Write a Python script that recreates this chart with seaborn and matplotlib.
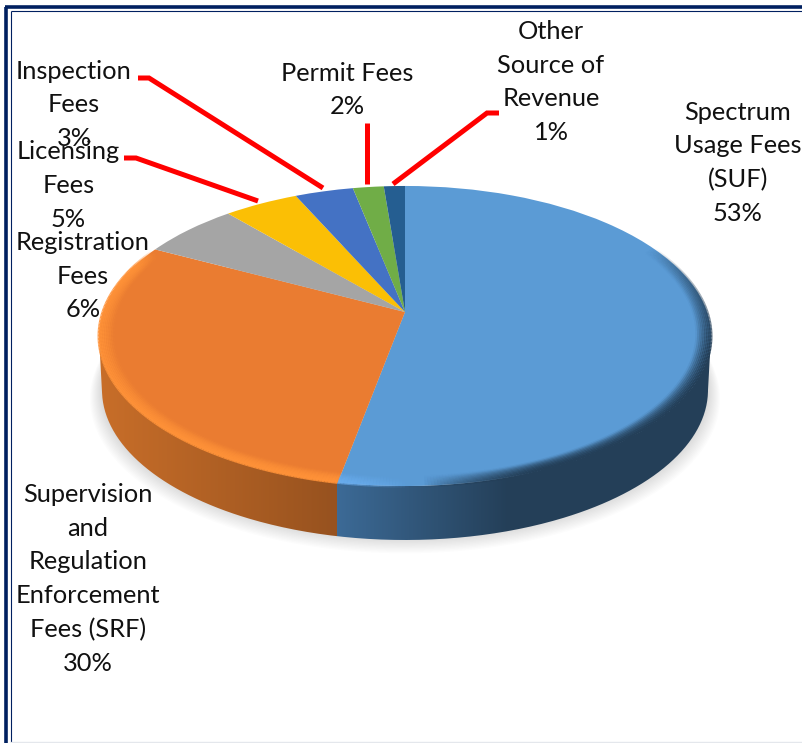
import numpy as np
import matplotlib
matplotlib.use('Agg')
import matplotlib.pyplot as plt
import seaborn as sns
from matplotlib.collections import LineCollection
from matplotlib.path import Path
from matplotlib.transforms import Transform

# values (wedge sizes, printed labels are rounded)
categories = ['Spectrum\nUsage Fees\n(SUF)', 'Supervision\nand\nRegulation\nEnforcement\nFees (SRF)',
              'Registration\nFees', 'Licensing\nFees', 'Inspection\nFees', 'Permit Fees',
              'Other\nSource of\nRevenue']
wedge_sizes = [53.0, 29.6, 6.0, 4.6, 3.6, 1.9, 1.3]
printed_pct = [53, 30, 6, 5, 3, 2, 1]
top_colors = ['#5B9BD5', '#EA7C31', '#A5A5A5', '#FBBF05', '#4472C4', '#70AD47', '#255E91']

# label centres in pixels
label_pos = [(738, 163), (88, 579), (83, 276), (68.5, 185.5), (74, 105), (347, 90), (551, 82)]

# red leader lines in pixels
leaders = [
    [(138, 78), (149, 78), (323, 188)],
    [(124, 158), (136, 158), (258, 201)],
    [(367, 123), (367, 184)],
    [(499, 113), (487, 113), (393, 184)],
]

# pie geometry in pixels
APEX_X, APEX_Y = 405, 312
TILT = 0.16
SCALE_X, SCALE_Y = 302, 146.2
CX, CY, RX, RY = 405, 336, 306, 150
DEPTH = 54


def project(xy):
    xy = np.asarray(xy, dtype=float)
    d = 1 + TILT * xy[:, 1]
    return np.column_stack([APEX_X + SCALE_X * xy[:, 0] / d, APEX_Y - SCALE_Y * xy[:, 1] / d])


class PieView(Transform):
    input_dims = 2
    output_dims = 2

    def transform_non_affine(self, values):
        return project(values)


sns.set_theme(style='white')
plt.rcParams['font.family'] = ['Lato', 'DejaVu Sans']

fig = plt.figure(figsize=(8.03, 7.43), dpi=100)
ax = fig.add_axes([0, 0, 1, 1])

wedges, _ = ax.pie(wedge_sizes, colors=top_colors, startangle=90, counterclock=False,
                   wedgeprops={'linewidth': 0, 'zorder': 5})
view = PieView() + ax.transData
for w in wedges:
    w.set_transform(view)

ax.set_aspect('auto')
ax.set_xlim(0, 803)
ax.set_ylim(743, 0)
ax.axis('off')

# soft shadow under the disc
t = np.linspace(0, 2 * np.pi, 300)
for k in range(12):
    ax.fill(CX + (RX - 2 + k) * np.cos(t), CY + DEPTH + k * 0.8 + (RY - 1 + k * 0.5) * np.sin(t),
            color='#808080', alpha=0.022, lw=0, zorder=1)

# side wall, gradient clipped to the front of the disc
phi = np.linspace(0, np.pi, 300)
upper = np.column_stack([CX + RX * np.cos(phi), CY + RY * np.sin(phi)])
lower = np.column_stack([CX + (RX - 3) * np.cos(phi), CY + DEPTH + RY * np.sin(phi)])
side = np.vstack([upper, lower[::-1]])

split = np.radians(wedge_sizes[0] * 3.6)
split_x = int(project([[np.sin(split), np.cos(split)]])[0, 0])
x0, x1 = CX - RX, CX + RX
fade_x = 510
grad = (sns.blend_palette(['#C86E29', '#97521F'], split_x - x0)
        + sns.blend_palette(['#3C6A96', '#243F58'], fade_x - split_x)
        + [matplotlib.colors.to_rgb('#243F58')] * (x1 - fade_x))
img = ax.imshow(np.array([grad]), extent=(x0, x1, CY + DEPTH + RY + 2, CY), aspect='auto', zorder=2,
                interpolation='nearest')
img.set_clip_path(Path(np.vstack([side, side[:1]])), ax.transData)
ax.set_xlim(0, 803)
ax.set_ylim(743, 0)

# bevel on the rim of the top face
dark = np.array(matplotlib.colors.to_rgb('#243F58'))
light_blue = np.array(matplotlib.colors.to_rgb('#6AAEF0'))
light_orange = np.array(matplotlib.colors.to_rgb('#FF9238'))
ang = np.linspace(45, 305, 500)
split_deg = np.degrees(split)
for r, fade in zip(np.linspace(1.0, 0.955, 9), np.linspace(1.0, 0.08, 9)):
    pts = project(np.column_stack([r * np.sin(np.radians(ang)), r * np.cos(np.radians(ang))]))
    segs = np.stack([pts[:-1], pts[1:]], axis=1)
    cols = []
    for a in ang[:-1]:
        if a < split_deg - 12:
            al = np.clip((a - 62) / 45, 0, 1) * np.clip((split_deg - 14 - a) / 20, 0, 1)
            cols.append([*dark, al * fade])
        elif a < split_deg:
            al = np.clip((a - split_deg + 12) / 12, 0, 1) * 0.7
            cols.append([*light_blue, al * fade])
        else:
            al = np.clip((296 - a) / 8, 0, 1) * 0.9
            cols.append([*light_orange, al * fade])
    ax.add_collection(LineCollection(segs, colors=cols, linewidths=2.2, zorder=6, capstyle='butt'))

# leader lines
for line in leaders:
    xs, ys = zip(*line)
    ax.plot(xs, ys, color='#FF0000', lw=3.6, solid_joinstyle='miter', solid_capstyle='butt', zorder=7)

# labels
for cat, pct, (x, y) in zip(categories, printed_pct, label_pos):
    ax.text(x, y, f'{cat}\n{pct}%', ha='center', va='center', fontsize=18.3, color='#111111',
            linespacing=1.57, zorder=8)

# frame of the slide
navy = '#002060'
ax.plot([6.5, 6.5], [743, 6.5], color=navy, lw=2.6, solid_capstyle='butt', zorder=9)
ax.plot([5, 803], [6.5, 6.5], color=navy, lw=2.6, solid_capstyle='butt', zorder=9)
ax.plot([11, 11], [743, 11], color=navy, lw=0.8, solid_capstyle='butt', zorder=9)
ax.plot([11, 803], [11, 11], color=navy, lw=0.8, solid_capstyle='butt', zorder=9)
ax.plot([11, 803], [742, 742], color='#E4E7EC', lw=1, zorder=9)

fig.savefig('out.png', dpi=100, facecolor='white')
